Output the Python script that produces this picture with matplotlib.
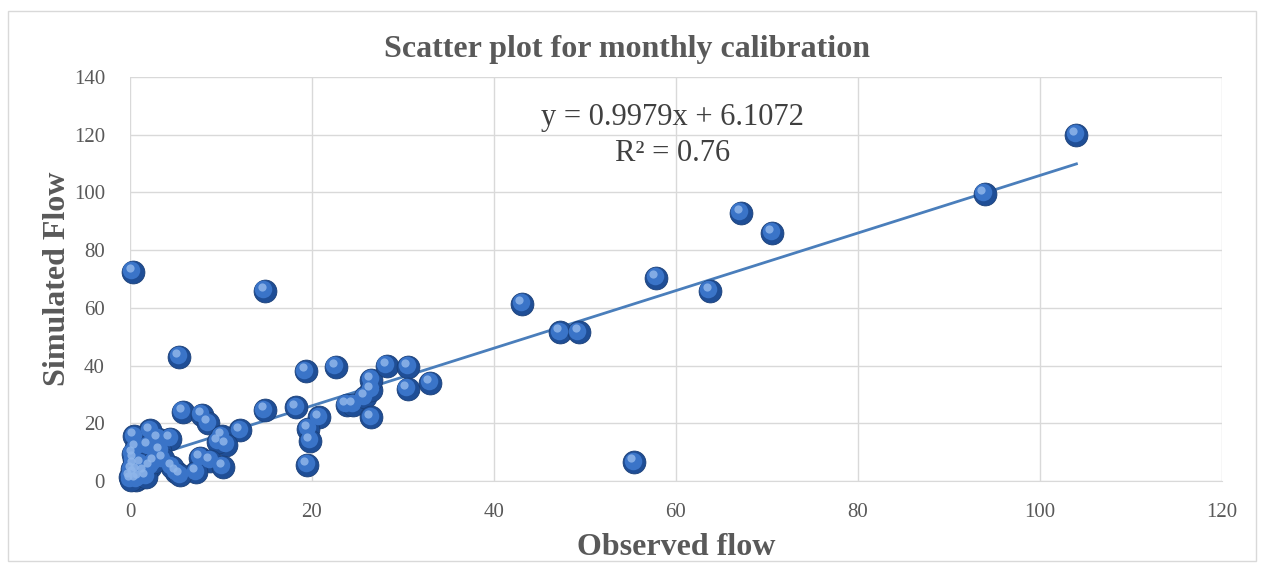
import matplotlib
matplotlib.use("Agg")
import matplotlib.pyplot as plt
import numpy as np
from matplotlib.transforms import ScaledTranslation
from matplotlib.patches import Rectangle

observed = [0.3, 14.8, 5.4, 5.8, 14.8, 18.3, 19.3, 22.6, 20.8, 19.6, 19.8, 19.5,
            23.8, 24.5, 25.8, 26.5, 26.5, 26.5, 28.2, 30.6, 30.5, 33.0,
            43.1, 47.3, 49.3, 55.4, 57.8, 63.7, 67.1, 70.6, 93.9, 104.0,
            7.9, 8.6, 12.1, 10.1, 10.6, 9.7, 7.7, 8.8, 10.2, 7.3, 5.1, 4.6, 5.5,
            3.1, 4.4, 2.2, 0.5, 0.7, 0.4, 0.0, 0.7, 2.2, 3.3, 2.0, 3.6, 1.5,
            0.2, 0.5, 1.0, 0.3, 1.2, 0.1, 0.8, 1.8, 0.4, 2.6]
simulated = [72.5, 66.0, 43.0, 24.0, 24.5, 25.5, 38.0, 39.5, 22.0, 18.0, 14.0, 5.5,
             26.5, 26.5, 29.0, 31.5, 35.0, 22.0, 40.0, 39.5, 32.0, 34.0,
             61.5, 51.5, 51.5, 6.5, 70.5, 66.0, 93.0, 86.0, 99.5, 120.0,
             23.0, 20.0, 17.5, 15.5, 12.5, 13.5, 8.0, 7.0, 5.0, 3.0, 3.0, 5.0, 2.0,
             14.5, 14.5, 17.5, 15.5, 11.5, 7.5, 1.5, 0.5, 5.0, 10.5, 12.0, 7.5, 3.0,
             4.0, 2.5, 1.0, 9.5, 6.0, 0.5, 3.5, 1.5, 5.5, 6.5]
slope = 0.9979
intercept = 6.1072
r2 = 0.76
x_ticks = [0, 20, 40, 60, 80, 100, 120]
y_ticks = [0, 20, 40, 60, 80, 100, 120, 140]

serif = ["Liberation Serif", "DejaVu Serif"]

fig = plt.figure(figsize=(12.64, 5.64), dpi=100)
fig.patch.set_facecolor("white")
fig.add_artist(Rectangle((0.006, 0.006), 0.988, 0.975, transform=fig.transFigure,
                         fill=False, edgecolor="#d9d9d9", linewidth=1.0))

ax = fig.add_axes([0.1028, 0.1472, 0.8640, 0.7163])
ax.set_xlim(0, 120)
ax.set_ylim(0, 140)
ax.set_xticks(x_ticks)
ax.set_yticks(y_ticks)
ax.grid(True, color="#d9d9d9", linewidth=1.0)
ax.set_axisbelow(True)
for s in ["top", "right", "left"]:
    ax.spines[s].set_visible(False)
ax.spines["bottom"].set_color("#d9d9d9")
ax.tick_params(axis="x", length=0, colors="#595959", labelsize=15, pad=16)
ax.tick_params(axis="y", length=0, colors="#595959", labelsize=15, pad=18)
for lab in ax.get_xticklabels() + ax.get_yticklabels():
    lab.set_family(serif)

# trendline
xl = np.array([0.0, max(observed)])
ax.plot(xl, slope * xl + intercept, color="#4a7ebb", linewidth=2.0, zorder=2)

# spherical markers
x = np.array(observed)
y = np.array(simulated)
ax.scatter(x, y, s=270, color="#1f4e96", edgecolors="#1a3f78", linewidths=0.6,
           zorder=3, clip_on=False)
t1 = ax.transData + ScaledTranslation(-1.0 / 72, 1.2 / 72, fig.dpi_scale_trans)
ax.scatter(x, y, s=160, color="#3a74c8", linewidths=0, zorder=4, transform=t1,
           clip_on=False)
t2 = ax.transData + ScaledTranslation(-2.2 / 72, 2.8 / 72, fig.dpi_scale_trans)
ax.scatter(x, y, s=35, color="#8fb6ea", linewidths=0, alpha=0.85, zorder=5,
           transform=t2, clip_on=False)

ax.text(59.6, 126, "y = 0.9979x + 6.1072", family=serif, fontsize=22,
        color="#404040", ha="center", va="center")
ax.text(59.6, 113.6, "R² = 0.76", family=serif, fontsize=22,
        color="#404040", ha="center", va="center")

fig.text(0.496, 0.913, "Scatter plot for monthly calibration", family=serif,
         fontsize=23, fontweight="bold", color="#595959", ha="center", va="center")
ax.set_xlabel("Observed flow", family=serif, fontsize=23, fontweight="bold",
              color="#595959", labelpad=8)
ax.set_ylabel("Simulated Flow", family=serif, fontsize=23, fontweight="bold",
              color="#595959", labelpad=1)

fig.savefig("out.png", dpi=100)
